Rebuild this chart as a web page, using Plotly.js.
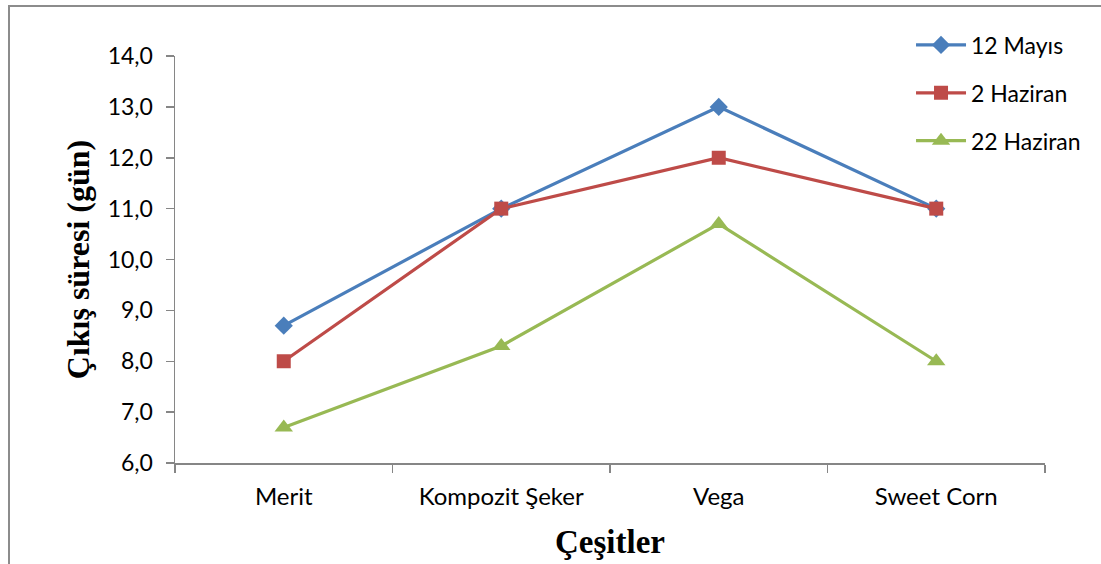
<!DOCTYPE html>
<html>
<head>
<meta charset="utf-8">
<script src="https://cdn.plot.ly/plotly-3.0.1.min.js"></script>
<style>
  html, body { margin: 0; padding: 0; background: #fff; }
  #wrap { position: relative; width: 1101px; height: 564px; overflow: hidden; }
  #frame { position: absolute; left: 8px; top: 5px; width: 1200px; height: 700px;
           border-top: 2px solid #8c8c8c; border-left: 2px solid #8c8c8c; pointer-events: none; }
  #chart { position: absolute; left: 0; top: 0; width: 1101px; height: 564px; }
</style>
</head>
<body>
<div id="wrap">
  <div id="chart"></div>
  <div id="frame"></div>
</div>
<script>
const categories = ["Merit", "Kompozit Şeker", "Vega", "Sweet Corn"];
const seriesNames = ["12 Mayıs", "2 Haziran", "22 Haziran"];
const mayis12 = [8.7, 11.0, 13.0, 11.0];
const haziran2 = [8.0, 11.0, 12.0, 11.0];
const haziran22 = [6.7, 8.3, 10.7, 8.0];
const yTitle = "Çıkış süresi (gün)";
const xTitle = "Çeşitler";

const colors = ["#4A7EBB", "#BE4B48", "#98B954"];
const symbols = ["diamond", "square", "triangle-up"];
const sizes = [14, 14, 16];
const values = [mayis12, haziran2, haziran22];

const traces = values.map((v, i) => ({
  type: "scatter",
  mode: "lines+markers",
  x: categories,
  y: v,
  name: seriesNames[i],
  legendgroup: "g" + i,
  line: { color: colors[i], width: 3.2 },
  marker: { symbol: symbols[i], size: sizes[i], color: colors[i] }
}));

const axisColor = "#868686";
const sans = "Lato, 'Open Sans', sans-serif";
const serif = "'Liberation Serif', 'Times New Roman', serif";
const layout = {
  width: 1101,
  height: 564,
  margin: { l: 175, r: 56, t: 56, b: 101 },
  paper_bgcolor: "rgba(0,0,0,0)",
  plot_bgcolor: "rgba(0,0,0,0)",
  separators: ",.",
  font: { family: sans, size: 23, color: "#000" },
  showlegend: true,
  legend: {
    x: 0.846, y: 1.08, xanchor: "left", yanchor: "top",
    font: { family: sans, size: 23, color: "#000" },
    itemwidth: 50,
    tracegroupgap: 15,
    bgcolor: "rgba(0,0,0,0)"
  },
  xaxis: {
    type: "category",
    range: [-0.5, 3.5],
    tickson: "boundaries",
    ticks: "outside",
    ticklen: 8,
    tickcolor: axisColor,
    tickwidth: 1.5,
    showline: true,
    linecolor: axisColor,
    linewidth: 1.5,
    showgrid: false,
    zeroline: false,
    ticklabelstandoff: 12,
    tickfont: { family: sans, size: 24, color: "#000" },
    title: { text: xTitle, standoff: 20,
             font: { family: serif, size: 33, color: "#000", weight: "bold" } }
  },
  yaxis: {
    range: [6, 14],
    dtick: 1,
    tick0: 6,
    tickformat: ".1f",
    ticks: "outside",
    ticklen: 8,
    tickcolor: axisColor,
    tickwidth: 1.5,
    showline: true,
    linecolor: axisColor,
    linewidth: 1.5,
    showgrid: false,
    zeroline: false,
    ticklabelstandoff: 8,
    tickfont: { family: sans, size: 23, color: "#000" },
    title: { text: yTitle, standoff: 8,
             font: { family: serif, size: 32, color: "#000", weight: "bold" } }
  }
};

Plotly.newPlot("chart", traces, layout, { displayModeBar: false, staticPlot: true });
</script>
</body>
</html>
